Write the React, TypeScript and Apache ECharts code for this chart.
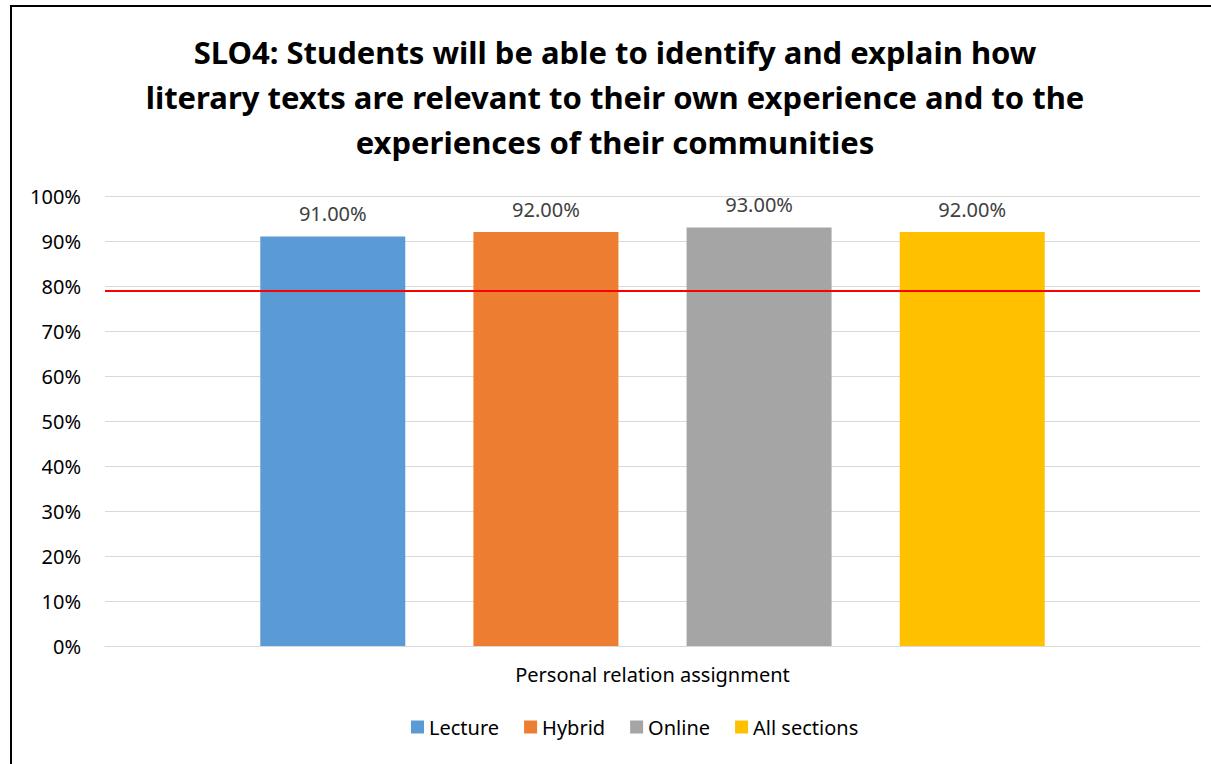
import React, { useEffect, useRef } from "react";
import * as echarts from "echarts";

const categories = ["Personal relation assignment"];
const seriesNames = ["Lecture", "Hybrid", "Online", "All sections"];
const seriesValues = [[0.91], [0.92], [0.93], [0.92]];
const seriesColors = ["#5b9bd5", "#ed7d31", "#a5a5a5", "#ffc000"];
const targetValue = 0.79;
const titleText =
  "SLO4: Students will be able to identify and explain how\nliterary texts are relevant to their own experience and to the\nexperiences of their communities";

const FONT = "'Noto Sans', 'Open Sans', sans-serif";

export default function App() {
  const ref = useRef<HTMLDivElement>(null);
  useEffect(() => {
    document.body.style.margin = "0";
    const chart = echarts.init(ref.current!, null, { renderer: "svg" });
    const series: any[] = seriesNames.map((name, i) => ({
      name,
      type: "bar",
      data: seriesValues[i],
      barWidth: 145,
      barGap: "47%",
      itemStyle: { color: seriesColors[i] },
      label: {
        show: true,
        position: "top",
        distance: 13,
        color: "#404040",
        fontFamily: FONT,
        fontSize: 20,
        formatter: (p: any) => (p.value * 100).toFixed(2) + "%",
      },
      markLine:
        i === 0
          ? {
              silent: true,
              symbol: "none",
              label: { show: false },
              lineStyle: { color: "#ff0000", width: 2, type: "solid" },
              data: [{ yAxis: targetValue }],
            }
          : undefined,
    }));
    chart.setOption({
      animation: false,
      backgroundColor: "#ffffff",
      textStyle: { fontFamily: FONT },
      title: {
        text: titleText,
        left: 610,
        textAlign: "center",
        top: 24,
        textStyle: {
          fontFamily: FONT,
          fontWeight: "bold",
          fontSize: 31,
          lineHeight: 45,
          color: "#000000",
        },
      },
      grid: { left: 105, right: 11, top: 196, bottom: 118 },
      legend: {
        data: seriesNames,
        bottom: 22,
        left: 406,
        itemWidth: 13,
        itemHeight: 13,
        itemGap: 25,
        icon: "rect",
        textStyle: { fontFamily: FONT, fontSize: 20, color: "#000000" },
      },
      xAxis: {
        type: "category",
        data: categories,
        axisLine: { show: true, lineStyle: { color: "#d9d9d9", width: 1 } },
        axisTick: { show: false },
        axisLabel: {
          margin: 18,
          fontFamily: FONT,
          fontSize: 20,
          color: "#000000",
        },
      },
      yAxis: {
        type: "value",
        min: 0,
        max: 1,
        interval: 0.1,
        axisLine: { show: false },
        axisTick: { show: false },
        splitLine: { lineStyle: { color: "#d9d9d9", width: 1 } },
        axisLabel: {
          margin: 24,
          fontFamily: FONT,
          fontSize: 20,
          color: "#000000",
          formatter: (v: number) => Math.round(v * 100) + "%",
        },
      },
      graphic: [
        {
          type: "rect",
          shape: { x: 11, y: 6, width: 1230, height: 800 },
          style: { fill: "none", stroke: "#000000", lineWidth: 2 },
          silent: true,
          z: 100,
        },
      ],
      series,
    });
    return () => chart.dispose();
  }, []);
  return <div ref={ref} style={{ width: 1211, height: 764 }} />;
}
